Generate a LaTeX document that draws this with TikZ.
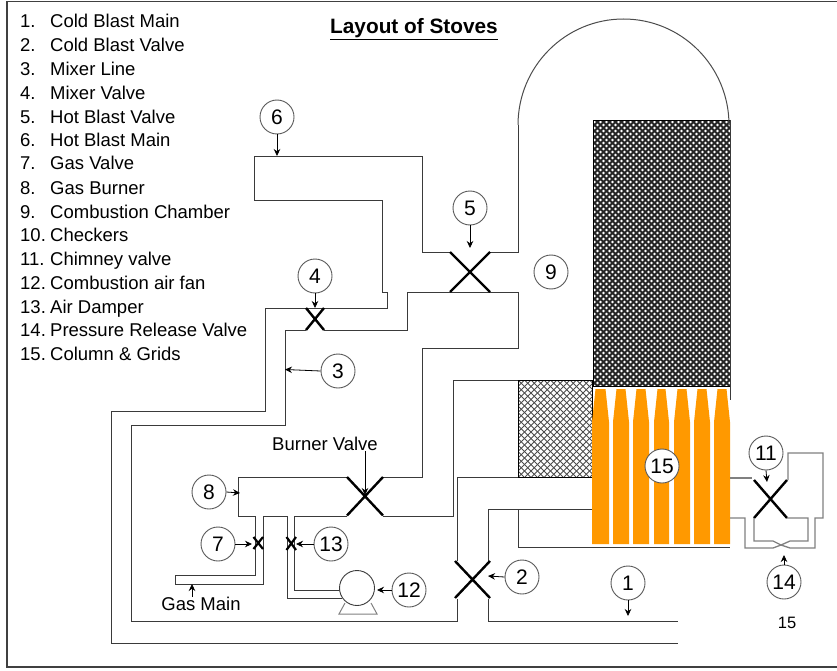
\documentclass[tikz,border=0pt]{standalone}
\usepackage{fontspec}
\setmainfont{Liberation Sans}
\usetikzlibrary{arrows.meta}
\definecolor{pipe}{HTML}{3A3A3A}
\definecolor{chim}{HTML}{808080}
\definecolor{grid}{HTML}{FF9900}
\tikzset{
  pipeline/.style={draw=pipe,line width=0.95pt,line join=miter},
  chimline/.style={draw=chim,line width=1.3pt},
  valvex/.style={draw=black,line width=2.4pt},
  valvesmall/.style={draw=black,line width=2.2pt},
  pointer/.style={draw=black,line width=0.8pt,-{Stealth[length=7pt,width=6.5pt]}},
  lab/.style={draw=black!65,fill=white,circle,line width=0.9pt,minimum size=34pt,inner sep=0pt,font=\fontsize{21}{23}\selectfont},
  listtext/.style={anchor=base west,inner sep=0pt,font=\fontsize{18.5}{20}\selectfont},
  plain/.style={inner sep=0pt,font=\fontsize{18.5}{20}\selectfont},
  col/.style={fill=grid,draw=none}
}
\newcommand{\gridcol}[2]{% left, right
  \pgfmathsetmacro{\ca}{#1+3.5}\pgfmathsetmacro{\cb}{#2-3.5}
  \fill[col] (#1,544) -- (#1,422) -- (\ca,389) -- (\cb,389) -- (#2,422) -- (#2,544) -- cycle;
}
\begin{document}
\begin{tikzpicture}[x=1pt,y=-1pt]
\useasboundingbox (0,0) rectangle (837,671);
% frame
\draw[draw=black!75,line width=1.3pt] (837,1.5) -- (7,1.5) -- (7,667) -- (837,667);
% title
\node[inner sep=0pt,font=\fontsize{20.8}{24}\selectfont\bfseries] (title) at (414,29) {\underline{Layout of Stoves}};
% list
\foreach \n/\y/\t in {1./21.5/Cold Blast Main,2./45/Cold Blast Valve,3./69/Mixer Line,4./93/Mixer Valve,5./117/Hot Blast Valve,6./140/Hot Blast Main,7./163.5/Gas Valve,8./188/Gas Burner,9./212/Combustion Chamber,10./235.5/Checkers,11./259/Chimney valve,12./283/Combustion air fan,13./307/Air Damper,14./330.5/Pressure Release Valve,15./354.5/Column \& Grids}{
  \pgfmathsetmacro{\yy}{\y+6.3}
  \node[listtext] (num\n) at (20,\yy) {\n};
  \node[listtext] (txt\n) at (50,\yy) {\t};
}
% dark checkers
\begin{scope}
  \clip (593,120) rectangle (730,386);
  \fill[black!85] (593,120) rectangle (730,386);
  \foreach \j in {0,...,89}{
    \pgfmathsetmacro{\py}{122+3*\j}
    \pgfmathsetmacro{\off}{593+1.5+3*mod(\j,2)}
    \foreach \i in {0,...,23}{
      \pgfmathsetmacro{\px}{\off+6*\i}
      \fill[white] (\px,\py) circle[radius=1.35pt];
    }
  }
\end{scope}
\draw[draw=black,line width=0.8pt] (593,120) rectangle (730,386);
% light checkers
\begin{scope}
  \clip (518,380) rectangle (592,477);
  \foreach \i in {-20,...,30}{
    \pgfmathsetmacro{\ax}{518+6.5*\i}\pgfmathsetmacro{\bx}{\ax+97}\pgfmathsetmacro{\cx}{\ax-97}
    \draw[draw=black!70,line width=0.9pt] (\ax,380) -- (\bx,477) (\ax,380) -- (\cx,477);
  }
\end{scope}
\draw[draw=black,line width=0.9pt] (518,380) rectangle (592,477);
% grids
\gridcol{592}{609}\gridcol{613}{629}\gridcol{633}{649}\gridcol{654}{669}\gridcol{674}{690}\gridcol{694}{710}\gridcol{714}{730}
\draw[pipeline] (518,509) -- (518,547) -- (730,547);
% dome
\draw[draw=black!70,line width=1pt] (518,125) arc[start angle=180,end angle=360,x radius=105.5,y radius=106] -- (730,125);
\draw[pipeline] (730,120) -- (730,400);
% hot blast valve piping
\draw[pipeline] (450,252) -- (422,252) -- (422,156) -- (254,156) -- (254,200) -- (382,200) -- (382,292) -- (387,292) -- (387,308) -- (265,308) -- (265,411) -- (111,411) -- (111,643.5) -- (678,643.5);
\draw[pipeline] (490,252) -- (518,252) -- (518,125);
\draw[pipeline] (324,330) -- (407,330) -- (407,292) -- (518,292) -- (518,348.5) -- (422,348.5) -- (422,477) -- (383,477);
\draw[pipeline] (306,330) -- (285,330) -- (285,425) -- (131,425) -- (131,621) -- (457,621) -- (457,599);
\draw[pipeline] (488,599) -- (488,621.5) -- (678,621.5);
\draw[pipeline] (457,561) -- (457,477.5) -- (518,477.5);
\draw[pipeline] (488,561) -- (488,509) -- (592,509);
\draw[pipeline] (518,380) -- (453,380) -- (453,516) -- (383,516);
% burner piping
\draw[pipeline] (347,477) -- (238,477) -- (238,516) -- (255,516) -- (255,575) -- (175.5,575) -- (175.5,584) -- (263,584) -- (263,516) -- (287,516) -- (287,598) -- (342,598);
\draw[pipeline] (347,516) -- (294,516) -- (294,590) -- (341,590);
% valves
\draw[valvex] (450,252) -- (490,292) (490,252) -- (450,292);
\draw[valvex] (455,561) -- (490,598) (490,561) -- (455,598);
\draw[valvex] (347,477) -- (383,515.5) (383,477) -- (347,515.5);
\draw[valvex] (306,308) -- (324,330) (324,308) -- (306,330);
\draw[valvesmall] (253.5,537) -- (263,549) (263,537) -- (253.5,549);
\draw[valvesmall] (286.5,537) -- (296,550) (296,537) -- (286.5,550);
\draw[valvex] (754,480) -- (787,518) (787,480) -- (754,518);
% chimney
\draw[chimline] (730,478) -- (752,478);
\draw[chimline] (730,518) -- (745,518) -- (745,548) -- (773,548) -- (781,545) -- (790,541) -- (808,541) -- (808,518) -- (787,518);
\draw[chimline] (754,518) -- (754,541) -- (773,541) -- (781,545) -- (790,548) -- (815,548) -- (815,518) -- (823,518) -- (823,453) -- (788,453) -- (788,480);
% fan
\node[draw=pipe,fill=white,circle,line width=0.9pt,minimum size=35pt,inner sep=0pt] (fan) at (357,588) {};
\draw[draw=chim,line width=1pt] (345,603) -- (339,614) -- (377,614) -- (371,603);
% labels
\node[lab] (n1) at (628,583) {1};
\node[lab] (n2) at (522,577) {2};
\node[lab] (n3) at (338,371) {3};
\node[lab] (n4) at (315,276) {4};
\node[lab] (n5) at (470,208) {5};
\node[lab] (n6) at (277,117) {6};
\node[lab] (n7) at (218,544) {7};
\node[lab] (n8) at (209,492) {8};
\node[lab] (n9) at (551,272) {9};
\node[lab] (n11) at (766,453) {11};
\node[lab] (n12) at (409,590) {12};
\node[lab] (n13) at (331,544) {13};
\node[lab] (n14) at (784,582) {14};
\node[lab] (n15) at (662,466) {15};
\node[plain] (burner) at (325,444) {Burner Valve};
\node[plain] (gasmain) at (201,604) {Gas Main};
\node[inner sep=0pt,font=\fontsize{16.5}{18}\selectfont] (note) at (787,623) {15};
% arrow targets
\coordinate (t1) at (628,616);
\coordinate (t2) at (488,576);
\coordinate (t3) at (285,369.5);
\coordinate (t4) at (315,308);
\coordinate (t5) at (470,248);
\coordinate (t6) at (277,156);
\coordinate (t7) at (252,544);
\coordinate (t8) at (240,493);
\coordinate (t11) at (767,482);
\coordinate (t12) at (377,590);
\coordinate (t13) at (296,544);
\coordinate (t14) at (784,555);
\coordinate (tb) at (365,495);
\coordinate (tg) at (192,584);
\draw[pointer] (n1) ++(0,17) -- (t1);
\draw[pointer] (n2.west) -- (t2);
\draw[pointer] (n3.west) -- (t3);
\draw[pointer] (n4.south) -- (t4);
\draw[pointer] (n5.south) -- (t5);
\draw[pointer] (n6.south) -- (t6);
\draw[pointer] (n7.east) -- (t7);
\draw[pointer] (n8.east) -- (t8);
\draw[pointer] (n11.south) -- (t11);
\draw[pointer] (n12.west) -- (t12);
\draw[pointer] (n13.west) -- (t13);
\draw[pointer] (n14.north) -- (t14);
\draw[pointer] (burner.south -| tb) -- (tb);
\draw[pointer] (gasmain.north -| tg) -- (tg);
\end{tikzpicture}
\end{document}
